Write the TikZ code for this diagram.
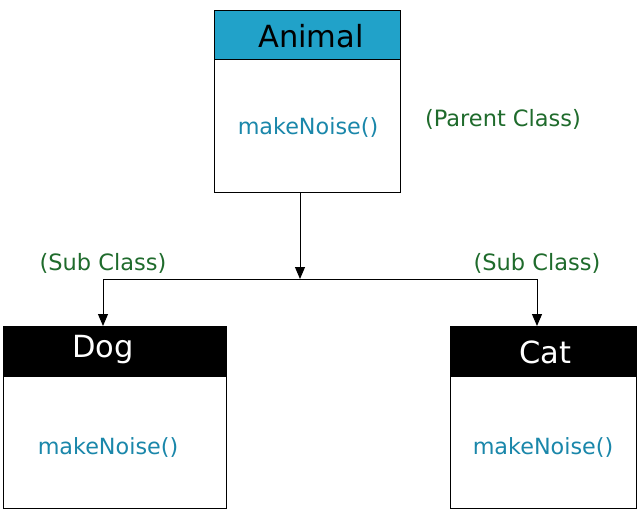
\documentclass[tikz,border=0pt]{standalone}
\usepackage{fontspec}
\setmainfont{DejaVu Sans}
\usetikzlibrary{arrows.meta,calc}
\definecolor{headteal}{HTML}{21A2C9}
\definecolor{methodblue}{HTML}{1A87AA}
\definecolor{notegreen}{HTML}{1F6B2C}
\begin{document}
\begin{tikzpicture}[x=1pt,y=-1pt,
  box/.style={draw=black,line width=1.2pt,inner sep=0pt,anchor=north west},
  title/.style={font=\fontsize{30.5}{34}\selectfont},
  method/.style={text=methodblue,font=\fontsize{22.3}{26}\selectfont},
  note/.style={text=notegreen,font=\fontsize{22.5}{26}\selectfont},
  arr/.style={-{Triangle[length=12pt,width=10pt]},line width=1pt},
  link/.style={line width=1pt}]
\useasboundingbox (0,0) rectangle (642,511);

% Animal (parent)
\node[box,fill=headteal,minimum width=186,minimum height=49] (animalH) at (214,10) {};
\node[box,fill=white,minimum width=186,minimum height=133] (animalB) at (214,59) {};
\node[title,text=black] (animalT) at (311,36) {Animal};
\node[method] (animalM) at (308,127) {makeNoise()};

% Dog
\node[box,fill=black,minimum width=223,minimum height=50] (dogH) at (3,326) {};
\node[box,fill=white,minimum width=223,minimum height=132] (dogB) at (3,376) {};
\node[title,text=white] (dogT) at (103,350) {Dog};
\node[method] (dogM) at (108,447) {makeNoise()};

% Cat
\node[box,fill=black,minimum width=186,minimum height=50] (catH) at (450,326) {};
\node[box,fill=white,minimum width=186,minimum height=132] (catB) at (450,376) {};
\node[title,text=white] (catT) at (545,352) {Cat};
\node[method] (catM) at (543,447) {makeNoise()};

% Notes
\node[note] (parentN) at (503,119) {(Parent Class)};
\node[note] (dogN) at (103,263) {(Sub Class)};
\node[note] (catN) at (537,263) {(Sub Class)};

% Connectors
\coordinate (j) at (300,279);
\coordinate (dj) at (103,279);
\coordinate (cj) at (537,279);
\draw[arr] (animalB.south -| j) -- (j);
\draw[link] (dj) -- (cj);
\draw[arr] (dj) -- (dogH.north -| dj);
\draw[arr] (cj) -- (catH.north -| cj);
\end{tikzpicture}
\end{document}
